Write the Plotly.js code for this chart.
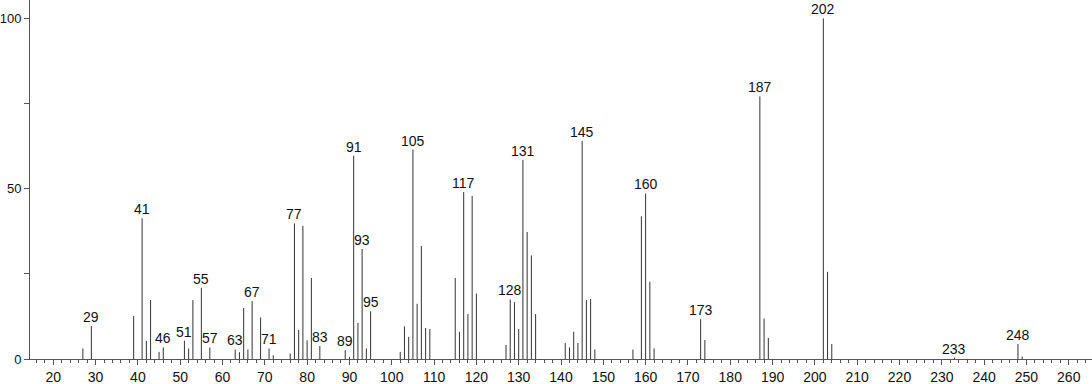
<!DOCTYPE html>
<html>
<head>
<meta charset="utf-8">
<script src="https://cdn.plot.ly/plotly-3.0.1.min.js"></script>
<style>html,body{margin:0;padding:0;background:#fff;}#chart{width:1092px;height:384px;}</style>
</head>
<body>
<div id="chart"></div>
<script>
// m/z values and relative intensities
var mz = [27, 29, 39, 41, 42, 43, 45, 46, 51, 52, 53, 55, 57, 63, 64, 65, 66, 67, 69, 71, 72,
          76, 77, 78, 79, 80, 81, 83, 89, 90, 91, 92, 93, 94, 95, 102, 103, 104, 105, 106, 107,
          108, 109, 115, 116, 117, 118, 119, 120, 127, 128, 129, 130, 131, 132, 133, 134,
          141, 142, 143, 144, 145, 146, 147, 148, 157, 159, 160, 161, 162, 173, 174,
          187, 188, 189, 202, 203, 204, 233, 248, 249];
var intensity = [3.1, 9.7, 12.6, 41.3, 5.3, 17.3, 2.1, 3.4, 5.4, 3.1, 17.3, 20.9, 3.4, 2.8, 2.0, 15.0, 2.8, 17.0, 12.2, 3.1, 1.1,
          1.6, 39.8, 8.5, 39.1, 5.5, 23.8, 3.8, 2.6, 0.6, 59.7, 10.6, 32.3, 3.1, 14.0, 2.1, 9.6, 6.5, 61.5, 16.2, 33.2,
          9.1, 8.8, 23.8, 8.0, 49.0, 13.2, 47.9, 19.2, 4.1, 17.5, 16.7, 8.8, 58.4, 37.3, 30.4, 13.2,
          4.7, 3.4, 8.0, 4.7, 64.0, 17.3, 17.6, 2.8, 2.8, 41.9, 48.6, 22.7, 3.1, 11.7, 5.6,
          77.1, 11.9, 6.2, 100, 25.6, 4.4, 0.4, 4.4, 0.7];
// peaks that carry a label
var labeledPeaks = [29, 41, 46, 51, 55, 57, 63, 67, 71, 77, 83, 89, 91, 93, 95, 105, 117, 128, 131, 145, 160, 173, 187, 202, 233, 248];
var yTickVals = [0, 25, 50, 75, 100];
var yTickText = ['0', '', '50', '', '100'];

var lx = [], ly = [];
for (var i = 0; i < mz.length; i++) {
  lx.push(mz[i], mz[i], null);
  ly.push(0, intensity[i], null);
}

var annotations = labeledPeaks.map(function (m) {
  var v = intensity[mz.indexOf(m)];
  return {
    x: m, y: v, xref: 'x', yref: 'y', text: String(m), showarrow: false,
    yanchor: 'bottom', xanchor: 'center', yshift: -1,
    font: {family: 'Liberation Sans, Arial, sans-serif', size: 14, color: '#111'}
  };
});

var trace = {
  x: lx, y: ly, type: 'scatter', mode: 'lines',
  line: {color: '#333', width: 1}, hoverinfo: 'skip', showlegend: false
};

var layout = {
  width: 1092, height: 384,
  margin: {l: 30, r: 0, t: 0, b: 25, pad: 0},
  paper_bgcolor: '#fff', plot_bgcolor: '#fff',
  showlegend: false,
  font: {family: 'Liberation Sans, Arial, sans-serif', size: 14, color: '#111'},
  xaxis: {
    range: [14.5, 265.5], showgrid: false, zeroline: false,
    showline: true, linecolor: '#555', linewidth: 1,
    tickmode: 'linear', tick0: 0, dtick: 10,
    ticks: 'outside', ticklen: 5, tickcolor: '#555', tickwidth: 1,
    tickfont: {size: 14, color: '#111'},
    minor: {dtick: 2, tick0: 0, ticks: 'outside', ticklen: 3, tickcolor: '#555', tickwidth: 1, showgrid: false}
  },
  yaxis: {
    range: [0, 105.4], showgrid: false, zeroline: false,
    showline: true, linecolor: '#555', linewidth: 1,
    tickmode: 'array', tickvals: yTickVals, ticktext: yTickText,
    ticks: 'outside', ticklen: 5, tickcolor: '#555', tickwidth: 1,
    tickfont: {size: 13, color: '#111'}
  },
  annotations: annotations
};

Plotly.newPlot('chart', [trace], layout, {staticPlot: true, displayModeBar: false});
</script>
</body>
</html>
